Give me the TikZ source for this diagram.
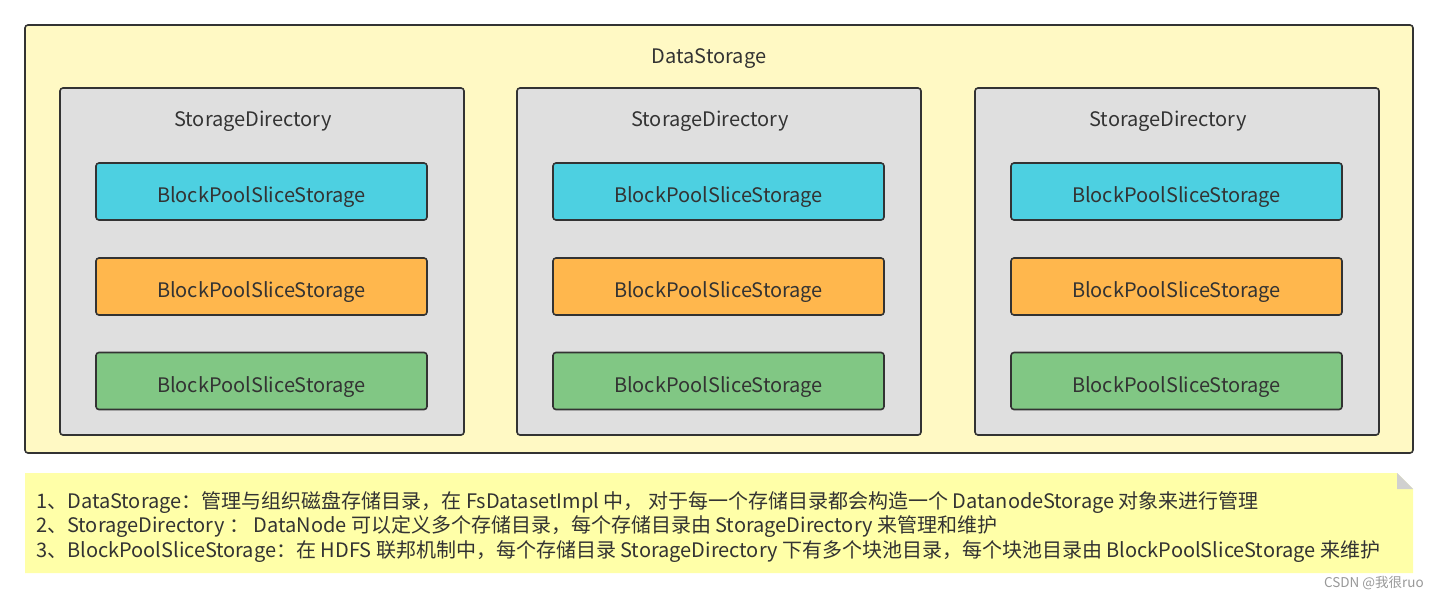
\documentclass[tikz,border=0pt]{standalone}
\usepackage{fontspec}
\setmainfont{Noto Sans CJK SC}
\begin{document}
\begin{tikzpicture}[x=1pt,y=-1pt,
  box/.style={draw=bordc,line width=1.6pt,rounded corners=3pt},
  outerbox/.style={box,fill=outerc},
  dirbox/.style={box,fill=dirc},
  bps/.style={box,minimum width=331pt,minimum height=57pt,inner sep=0pt,text height=22pt,text depth=0pt,font=\fontsize{20}{22}\selectfont,text=textc},
  lbl/.style={font=\fontsize{20}{22}\selectfont,text=textc,inner sep=0pt},
]
\definecolor{bordc}{HTML}{333333}
\definecolor{textc}{HTML}{333333}
\definecolor{outerc}{HTML}{FFF9C4}
\definecolor{dirc}{HTML}{DFDFDF}
\definecolor{cyanc}{HTML}{4DD0E1}
\definecolor{orangec}{HTML}{FFB74D}
\definecolor{greenc}{HTML}{81C784}
\definecolor{notec}{HTML}{FFFFA8}
\definecolor{foldc}{HTML}{D0D0D0}
\useasboundingbox (0,0) rectangle (1438,598);
\fill[white] (0,0) rectangle (1438,598);
% outer
\draw[outerbox] (25,25) rectangle (1413,453);
\node[lbl] (ds) at (709,59) {DataStorage};
\foreach \i/\x in {1/60,2/517,3/975}{
  \draw[dirbox] (\x,88) rectangle ({\x+404},435);
  \node[lbl] (sd\i) at ({\x+193},121) {StorageDirectory};
  \node[bps,fill=cyanc] (b\i a) at ({\x+201.5},191.5) {BlockPoolSliceStorage};
  \node[bps,fill=orangec] (b\i b) at ({\x+201.5},286.5) {BlockPoolSliceStorage};
  \node[bps,fill=greenc] (b\i c) at ({\x+201.5},381) {BlockPoolSliceStorage};
}
% note
\fill[notec] (25,473) -- (1397,473) -- (1413,489) -- (1413,573) -- (25,573) -- cycle;
\fill[foldc] (1397,473) -- (1413,489) -- (1397,489) -- cycle;
\node[lbl,anchor=west] (n1) at (36,502) {1、DataStorage：管理与组织磁盘存储目录，在 FsDatasetImpl 中， 对于每一个存储目录都会构造一个 DatanodeStorage 对象来进行管理};
\node[lbl,anchor=west] (n2) at (36,527) {2、StorageDirectory ： DataNode 可以定义多个存储目录，每个存储目录由 StorageDirectory 来管理和维护};
\node[lbl,anchor=west] (n3) at (36,552) {3、BlockPoolSliceStorage：在 HDFS 联邦机制中，每个存储目录 StorageDirectory 下有多个块池目录，每个块池目录由 BlockPoolSliceStorage 来维护};
\node[font=\fontsize{13.5}{15}\selectfont,text=gray!80,inner sep=0pt,anchor=east] (wm) at (1424,583) {CSDN @我很ruo};
\end{tikzpicture}
\end{document}
